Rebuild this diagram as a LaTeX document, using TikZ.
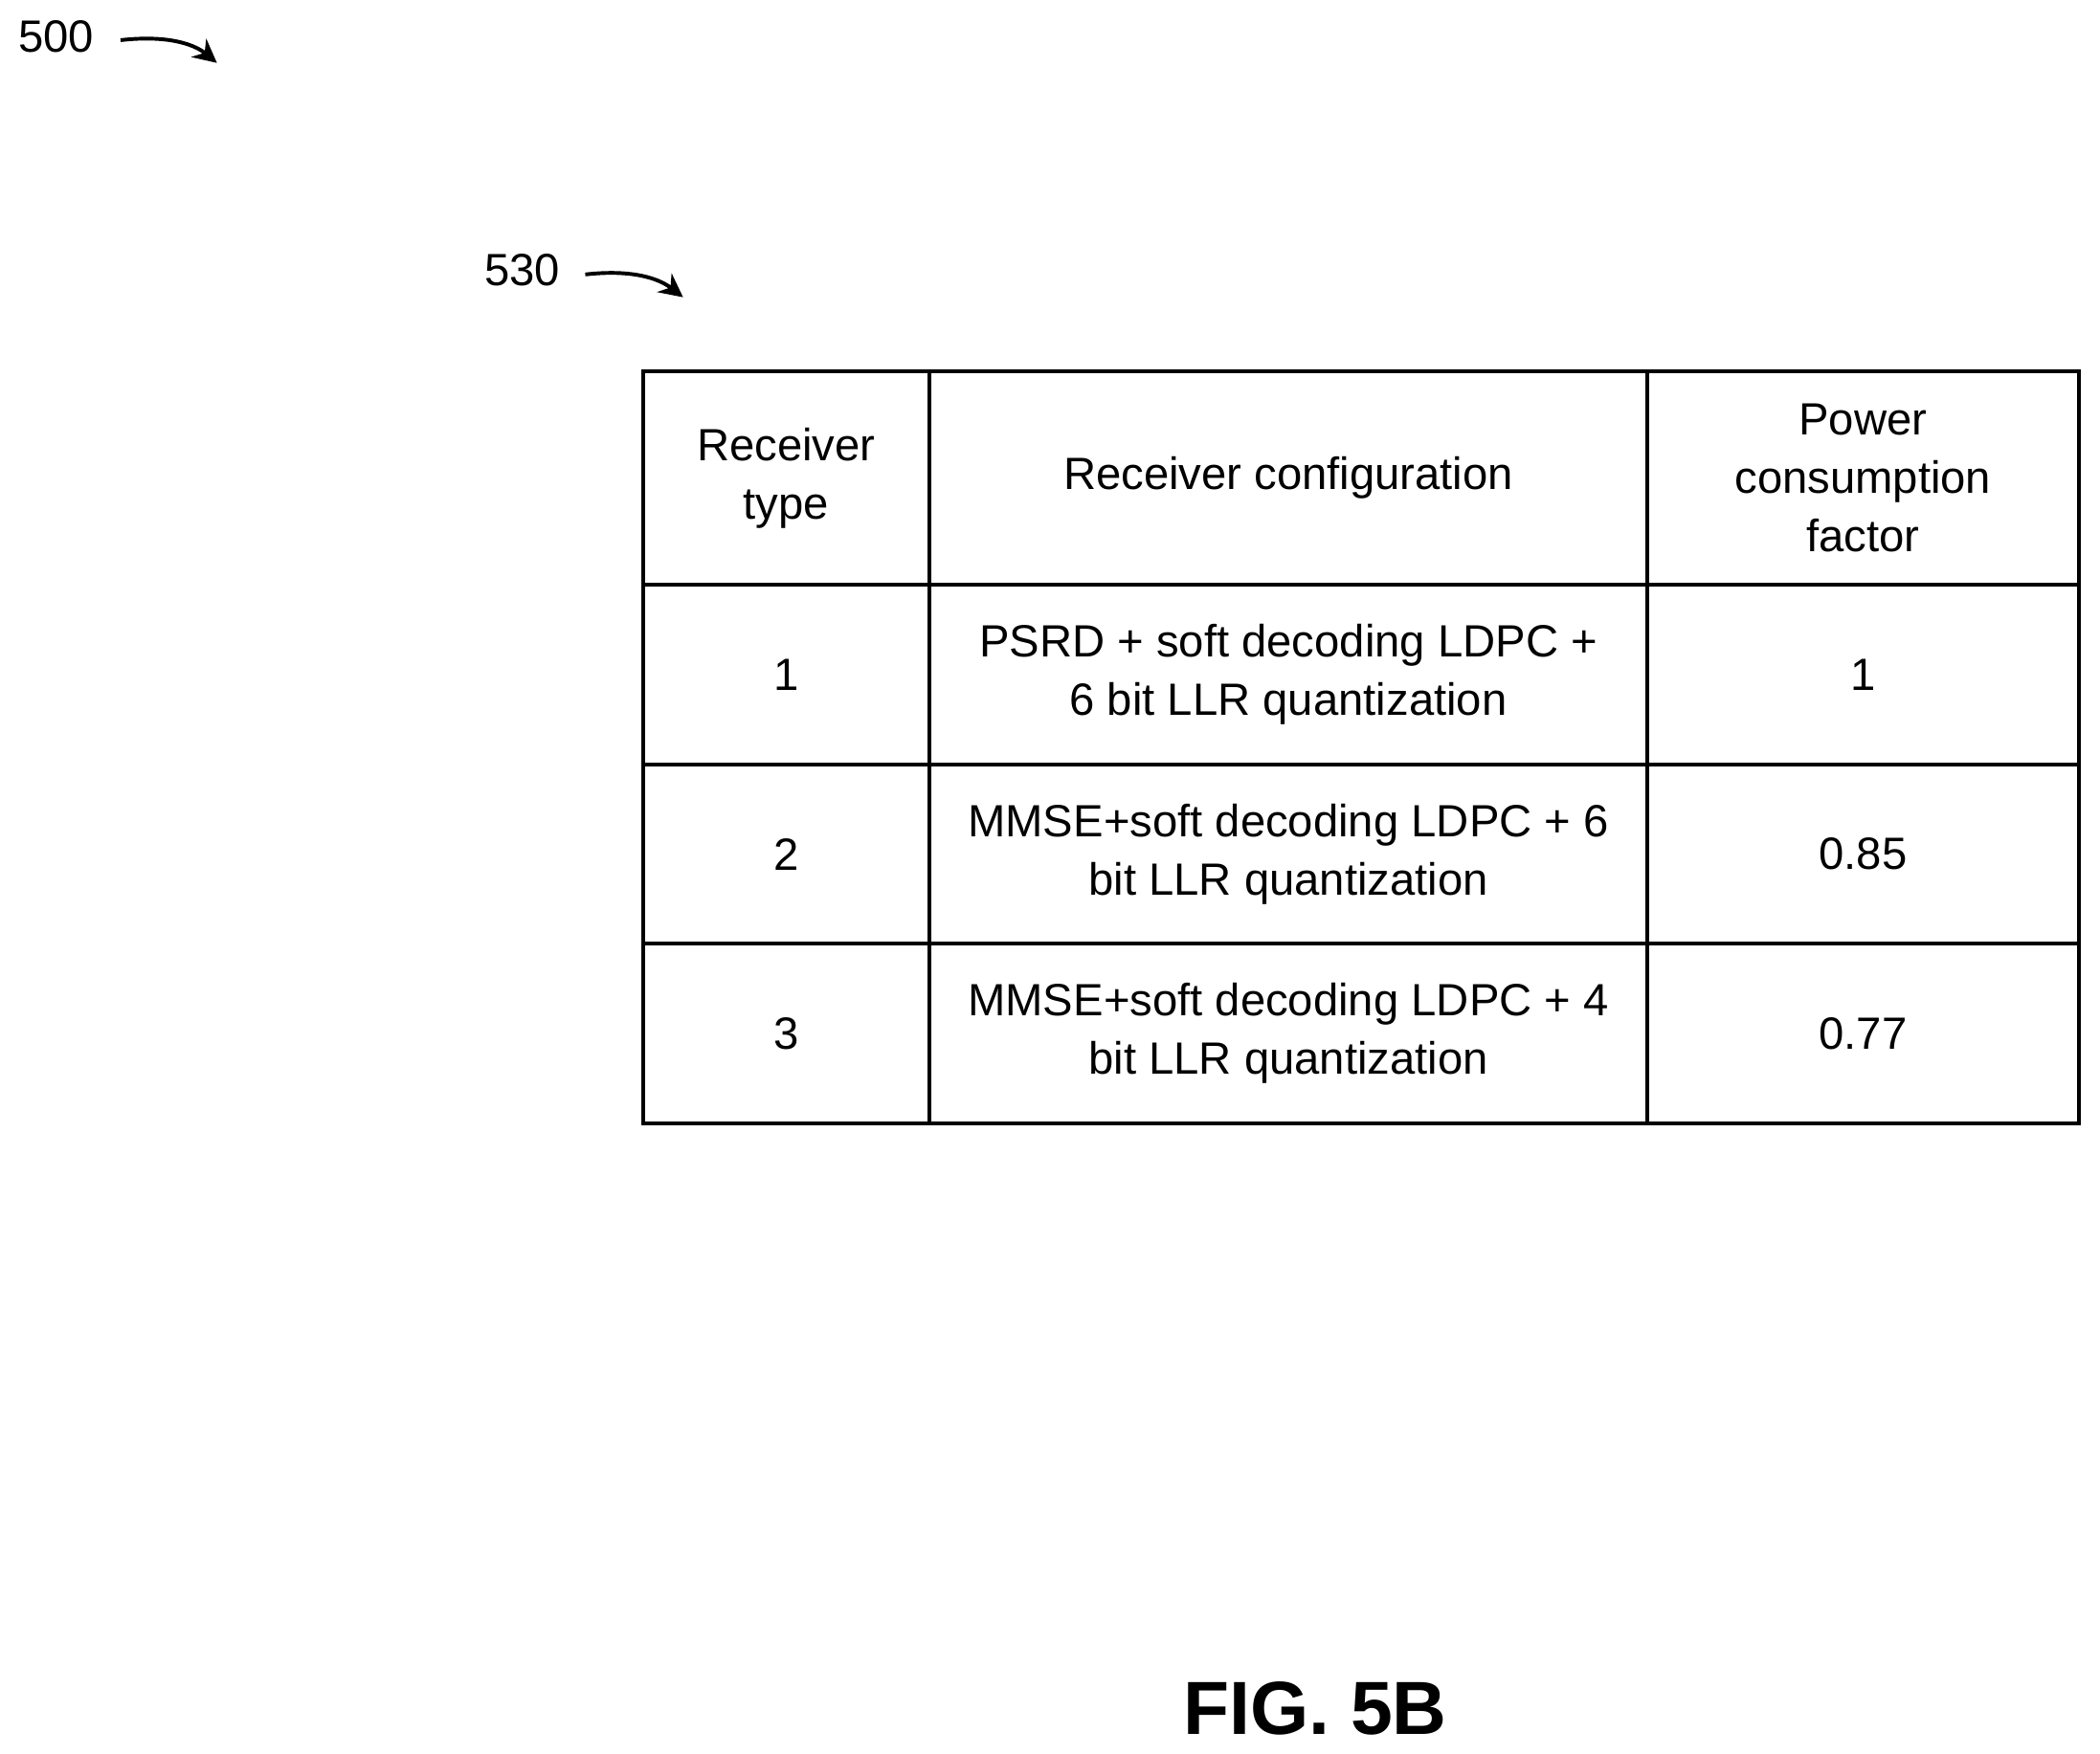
\documentclass[tikz,border=0pt]{standalone}
\usepackage{fontspec}
\setmainfont{Liberation Sans}
\usetikzlibrary{arrows.meta}
\tikzset{
  cell/.style={align=center, font=\fontsize{9.6}{12.4}\selectfont},
  refnum/.style={font=\fontsize{9.6}{12}\selectfont},
  refarrow/.style={-{Stealth[length=5pt,width=5pt]}, thick}
}
\begin{document}
\begin{tikzpicture}[x=0.01cm,y=-0.01cm]
    \useasboundingbox (0,0) rectangle (1568,1310);

    % reference labels
    \node [refnum] (n500) at (42,27) {500};
    \coordinate (a500) at (162,47);
    \draw [refarrow] (90,30) .. controls (125,26) and (145,33) .. (a500);
    \node [refnum] (n530) at (390,202) {530};
    \coordinate (a530) at (510,222);
    \draw [refarrow] (437,205) .. controls (472,201) and (492,208) .. (a530);

    % table grid
    \draw [thick] (480,277) rectangle (1552,839);
    \foreach \y in {437,571,705} \draw [thick] (480,\y) -- (1552,\y);
    \foreach \x in {694,1230} \draw [thick] (\x,277) -- (\x,839);

    % header
    \node [cell] (h1) at (587,357) {Receiver\\type};
    \node [cell] (h2) at (962,357) {Receiver configuration};
    \node [cell] (h3) at (1391,357) {Power\\consumption\\factor};

    % rows
    \node [cell] (r1a) at (587,504) {1};
    \node [cell] (r1b) at (962,504) {PSRD + soft decoding LDPC +\\6 bit LLR quantization};
    \node [cell] (r1c) at (1391,504) {1};
    \node [cell] (r2a) at (587,638) {2};
    \node [cell] (r2b) at (962,638) {MMSE+soft decoding LDPC + 6\\bit LLR quantization};
    \node [cell] (r2c) at (1391,638) {0.85};
    \node [cell] (r3a) at (587,772) {3};
    \node [cell] (r3b) at (962,772) {MMSE+soft decoding LDPC + 4\\bit LLR quantization};
    \node [cell] (r3c) at (1391,772) {0.77};

    \node [font=\fontsize{16}{18}\selectfont\bfseries] (fig) at (982,1276) {FIG. 5B};
\end{tikzpicture}
\end{document}
